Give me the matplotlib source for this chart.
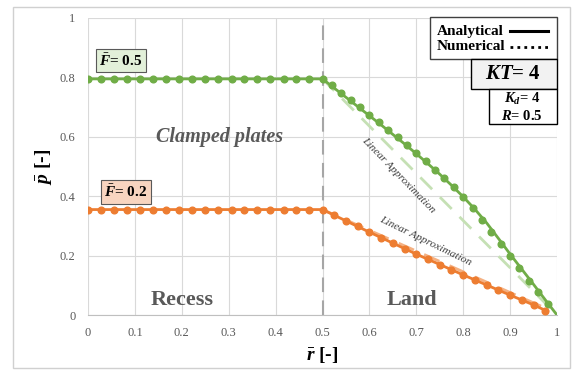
import matplotlib
matplotlib.use("Agg")
import matplotlib.pyplot as plt
from matplotlib.patches import Rectangle
from matplotlib.lines import Line2D

plt.rcParams.update(
    {
        "font.family": "Liberation Serif",
        "mathtext.fontset": "custom",
        "mathtext.rm": "Liberation Serif:bold",
        "mathtext.it": "Liberation Serif:italic:bold",
        "mathtext.bf": "Liberation Serif:bold",
    }
)

GREEN = "#70AD47"
ORANGE = "#ED7D31"
GREEN_LIN = "#C5E0B4"
ORANGE_LIN = "#F4B183"
GRAY_TXT = "#595959"

# --- recess (flat) region, both load cases
recess_x = [0.0, 0.5]
recess_p_f05 = [0.795, 0.795]
recess_p_f02 = [0.355, 0.355]
recess_dots_x = [0.0, 0.028, 0.056, 0.083, 0.111, 0.139, 0.167, 0.194, 0.222, 0.25,
                 0.278, 0.306, 0.333, 0.361, 0.389, 0.417, 0.444, 0.472, 0.5]

# --- land region, analytical
land_x_f05 = [0.5, 0.525, 0.55, 0.575, 0.6, 0.625, 0.65, 0.675, 0.7, 0.725, 0.75,
              0.775, 0.8, 0.825, 0.85, 0.875, 0.9, 0.925, 0.95, 0.975, 1.0]
land_p_f05 = [0.795, 0.764, 0.733, 0.702, 0.671, 0.640, 0.608, 0.576, 0.543, 0.509, 0.474,
              0.437, 0.398, 0.356, 0.310, 0.258, 0.205, 0.154, 0.103, 0.051, 0.0]
land_x_f02 = [0.5, 0.55, 0.6, 0.65, 0.7, 0.75, 0.8, 0.85, 0.9, 0.95, 0.98]
land_p_f02 = [0.355, 0.317, 0.279, 0.242, 0.205, 0.170, 0.135, 0.101, 0.067, 0.034, 0.012]

# --- land region, numerical
num_x_f05 = [0.52, 0.54, 0.56, 0.58, 0.60, 0.62, 0.64, 0.66, 0.68, 0.70, 0.72, 0.74,
             0.76, 0.78, 0.80, 0.82, 0.84, 0.86, 0.88, 0.90, 0.92, 0.94, 0.96, 0.98]
num_p_f05 = [0.773, 0.749, 0.724, 0.699, 0.674, 0.649, 0.624, 0.598, 0.572, 0.545, 0.517, 0.489,
             0.460, 0.430, 0.396, 0.360, 0.320, 0.280, 0.239, 0.198, 0.157, 0.116, 0.076, 0.038]
num_x_f02 = [0.525, 0.55, 0.575, 0.6, 0.625, 0.65, 0.675, 0.7, 0.725, 0.75, 0.775, 0.8,
             0.825, 0.85, 0.875, 0.9, 0.925, 0.95, 0.975]
num_p_f02 = [0.336, 0.317, 0.298, 0.279, 0.260, 0.242, 0.223, 0.205, 0.187, 0.170, 0.152, 0.135,
             0.118, 0.101, 0.084, 0.067, 0.050, 0.034, 0.015]

# --- linear approximations
lin_x_f05 = [0.5, 1.0]
lin_p_f05 = [0.795, 0.0]
lin_x_f02 = [0.5, 0.98]
lin_p_f02 = [0.355, 0.02]

W, H = 577, 378
fig = plt.figure(figsize=(W / 100, H / 100), dpi=100)
ax = fig.add_axes([88 / W, 1 - 315 / H, (557 - 88) / W, (315 - 18) / H])


def px(x, y):
    return x / W, 1 - y / H


# outer frame
fig.patches.append(Rectangle(px(13, 368), (570 - 13) / W, (368 - 7) / H,
                             transform=fig.transFigure, fill=False,
                             edgecolor="#D0D0D0", lw=1.0))

# linear approximations (dashed, light)
ax.plot(lin_x_f05, lin_p_f05, color=GREEN_LIN, lw=2, dashes=(6, 4), zorder=2)
ax.plot(lin_x_f02, lin_p_f02, color=ORANGE_LIN, lw=2, dashes=(6, 4), zorder=2)

# analytical
ax.plot(recess_x + land_x_f05[1:], recess_p_f05 + land_p_f05[1:], color=GREEN, lw=2, zorder=3)
ax.plot(recess_x + land_x_f02[1:], recess_p_f02 + land_p_f02[1:], color=ORANGE, lw=2, zorder=3)

# numerical
ax.plot(recess_dots_x + num_x_f05, [recess_p_f05[0]] * len(recess_dots_x) + num_p_f05,
        "o", color=GREEN, ms=4.8, zorder=4)
ax.plot(recess_dots_x + num_x_f02, [recess_p_f02[0]] * len(recess_dots_x) + num_p_f02,
        "o", color=ORANGE, ms=4.8, zorder=4)

# recess / land boundary
ax.plot([0.5, 0.5], [0, 1], color="#A6A6A6", lw=1.5, dashes=(7, 4), zorder=1)

ax.set_xlim(0, 1)
ax.set_ylim(0, 1)
ax.set_xticks([i / 10 for i in range(11)])
ax.set_xticklabels(["0", "0.1", "0.2", "0.3", "0.4", "0.5", "0.6", "0.7", "0.8", "0.9", "1"])
ax.set_yticks([0, 0.2, 0.4, 0.6, 0.8, 1.0])
ax.set_yticklabels(["0", "0.2", "0.4", "0.6", "0.8", "1"])
ax.tick_params(length=0, labelsize=9, labelcolor=GRAY_TXT)
ax.tick_params(axis="x", pad=9)
ax.tick_params(axis="y", pad=9)
ax.grid(color="#D9D9D9", lw=0.8)
ax.set_axisbelow(True)
for s in ("top", "right", "left"):
    ax.spines[s].set_visible(False)
ax.spines["bottom"].set_color("#BFBFBF")

ax.set_xlabel(r"$\bar{r}$ [-]", fontsize=14, fontweight="bold", labelpad=4)
ax.set_ylabel(r"$\bar{p}$ [-]", fontsize=14, fontweight="bold", labelpad=4)

# annotations
ax.text(0.281, 0.598, "Clamped plates", fontsize=14.5, fontweight="bold", style="italic",
        color=GRAY_TXT, ha="center", va="center")
ax.text(0.2, 0.05, "Recess", fontsize=16, fontweight="bold", color=GRAY_TXT,
        ha="center", va="center")
ax.text(0.69, 0.05, "Land", fontsize=16, fontweight="bold", color=GRAY_TXT,
        ha="center", va="center")
ax.text(0.661, 0.47, "Linear Approximation", fontsize=8.2, style="italic", color="#404040",
        rotation=-46, ha="center", va="center", rotation_mode="anchor")
ax.text(0.72, 0.248, "Linear Approximation", fontsize=8.2, style="italic", color="#404040",
        rotation=-26, ha="center", va="center", rotation_mode="anchor")

ax.text(0.070, 0.856, r"$\bar{F}$= 0.5", fontsize=11, fontweight="bold", ha="center",
        va="center", bbox=dict(boxstyle="square,pad=0.22", fc="#E2F0D9", ec="#595959", lw=0.8))
ax.text(0.081, 0.414, r"$\bar{F}$= 0.2", fontsize=11, fontweight="bold", ha="center",
        va="center", bbox=dict(boxstyle="square,pad=0.22", fc="#F8D5C0", ec="#595959", lw=0.8))

# legend box
fig.patches.append(Rectangle(px(430, 59), (557 - 430) / W, (59 - 17) / H,
                             transform=fig.transFigure, fc="white", ec="#404040", lw=1.0))
fig.text(*px(437, 31), "Analytical", fontsize=11, fontweight="bold", ha="left", va="center")
fig.text(*px(437, 47), "Numerical", fontsize=11, fontweight="bold", ha="left", va="center")
fig.lines.append(Line2D([510 / W, 548 / W], [1 - 31 / H, 1 - 31 / H],
                        transform=fig.transFigure, color="black", lw=2.2))
fig.lines.append(Line2D([510 / W, 548 / W], [1 - 47 / H, 1 - 47 / H],
                        transform=fig.transFigure, color="black", lw=2, ls=(0, (1, 1.5))))

fig.patches.append(Rectangle(px(471, 89), (557 - 471) / W, (89 - 59) / H,
                             transform=fig.transFigure, fc="#F2F2F2", ec="black", lw=1.0))
fig.text(*px(513, 74), r"$KT$= 4", fontsize=15, fontweight="bold", ha="center", va="center")

fig.patches.append(Rectangle(px(489, 124), (557 - 489) / W, (124 - 89) / H,
                             transform=fig.transFigure, fc="white", ec="black", lw=1.0))
fig.text(*px(522, 99), r"$K_d$= 4", fontsize=10.5, fontweight="bold", ha="center", va="center")
fig.text(*px(522, 116), r"$R$= 0.5", fontsize=10.5, fontweight="bold", ha="center", va="center")

fig.savefig("out.png", dpi=100)
